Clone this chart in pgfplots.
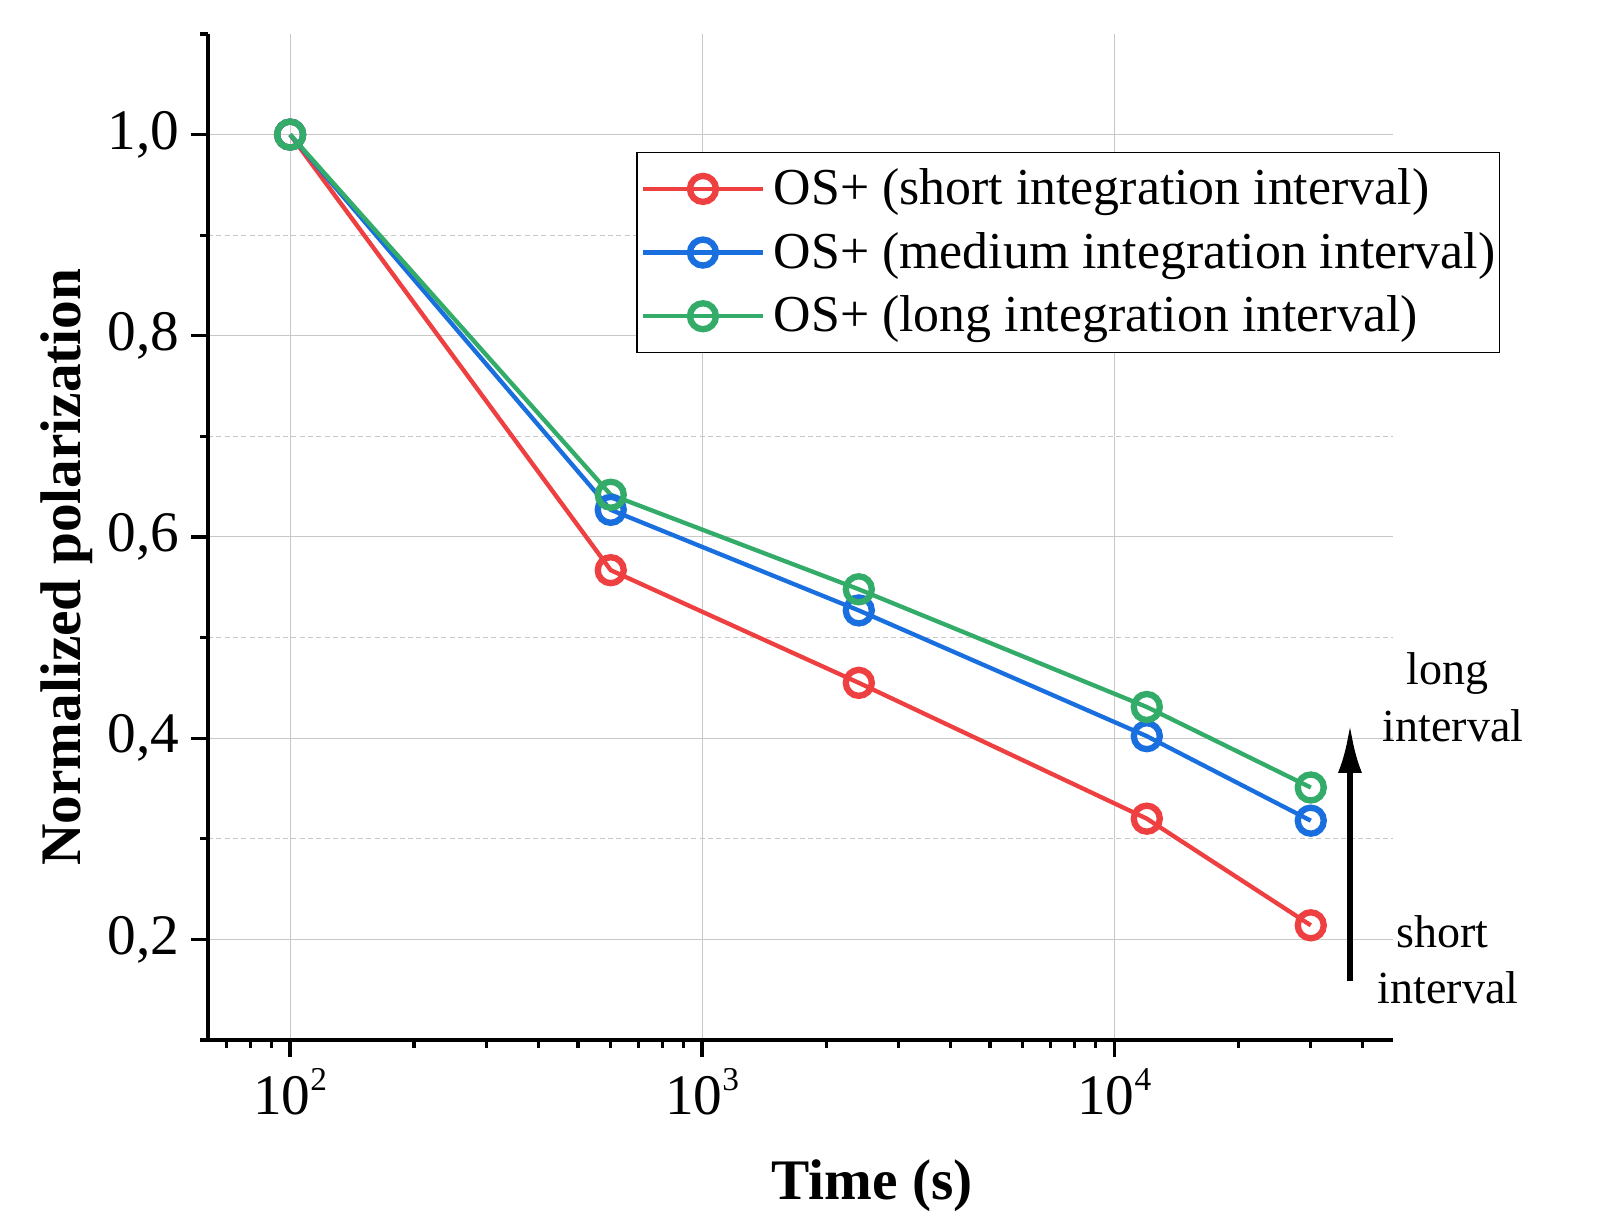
\documentclass[border=0pt]{standalone}
\usepackage{fontspec}
\setmainfont{Liberation Serif}
\usepackage{pgfplots}
\pgfplotsset{compat=1.18}
\usetikzlibrary{arrows.meta}

\definecolor{osred}{RGB}{238,64,64}
\definecolor{osblue}{RGB}{26,111,223}
\definecolor{osgreen}{RGB}{52,172,105}
\definecolor{gridgray}{RGB}{200,200,200}

% power-of-ten tick label
\newcommand{\pw}[1]{10\raisebox{7.3pt}{\fontsize{10}{10}\selectfont #1}}

\pgfplotsset{
  osplot/.style={line width=1.3pt, mark=o, mark size=3.9pt,
    mark options={fill=white, line width=1.9pt, solid}},
}

\begin{document}
\begin{tikzpicture}
\begin{axis}[
  scale only axis, width=355.5pt, height=301.8pt,
  clip=false,
  xmode=log, xmin=63.2, xmax=47500,
  ymin=0.1, ymax=1.1,
  axis x line*=bottom, axis y line*=left,
  axis line style={line width=1pt, black},
  every tick/.style={black, line width=1pt},
  tick align=outside,
  major tick length=5pt, minor tick length=2.4pt,
  xtick={100,1000,10000},
  xticklabels={\pw{2},\pw{3},\pw{4}},
  minor xtick={70,80,90,200,300,400,500,600,700,800,900,2000,3000,4000,5000,6000,7000,8000,9000,20000,30000,40000},
  ytick={0.2,0.4,0.6,0.8,1.0},
  yticklabels={{0,2},{0,4},{0,6},{0,8},{1,0}},
  minor ytick={0.3,0.5,0.7,0.9},
  extra y ticks={0.1,1.1}, extra y tick labels={},
  extra y tick style={grid=none, major tick length=2.4pt},
  xmajorgrids, ymajorgrids, yminorgrids,
  major grid style={gridgray, line width=0.3pt},
  minor grid style={gridgray, line width=0.3pt, dash pattern=on 1.5pt off 1pt},
  tick label style={font=\fontsize{17.2}{20}\selectfont},
  label style={font=\fontsize{17.2}{20}\selectfont\bfseries},
  xlabel={Time (s)},
  ylabel={Normalized polarization},
  xlabel style={at={(axis description cs:0.5603,-0.159)}, anchor=base},
  ylabel style={at={(axis description cs:-0.108,0.47)}, anchor=base},
  legend style={at={(0.3612,0.8827)}, anchor=north west, draw=black,
    line width=0.45pt, fill=white,
    font=\fontsize{15.55}{18}\selectfont,
    inner xsep=1.2pt, inner ysep=1.3pt, row sep=0pt,
    nodes={inner sep=0pt, text height=14.2pt, text depth=4.9pt}},
  legend cell align=left,
  legend image code/.code={
    \draw[#1, mark=none] (0pt,0pt) -- (36pt,0pt);
    \draw[#1] plot coordinates {(18pt,0pt)};
  },
]
\addplot[osplot, osred] coordinates {
  (100,1.000) (600,0.567) (2400,0.455) (12000,0.320) (30000,0.214)
};
\addlegendentry{\hspace{2.6pt}OS+ (short integration interval)}
\addplot[osplot, osblue] coordinates {
  (100,1.000) (600,0.627) (2400,0.527) (12000,0.402) (30000,0.318)
};
\addlegendentry{\hspace{2.6pt}OS+ (medium integration interval)}
\addplot[osplot, osgreen] coordinates {
  (100,1.000) (600,0.642) (2400,0.548) (12000,0.431) (30000,0.351)
};
\addlegendentry{\hspace{2.6pt}OS+ (long integration interval)}

% direction of growing integration interval
\draw[-{Latex[length=14.5pt,width=7.2pt]}, line width=1.8pt, black]
  (rel axis cs:0.9637,0.0586) -- (rel axis cs:0.9637,0.3135);
\node[anchor=base, font=\fontsize{13.8}{17}\selectfont] at (rel axis cs:1.046,0.3529) {long};
\node[anchor=base, font=\fontsize{13.8}{17}\selectfont] at (rel axis cs:1.0506,0.2965) {interval};
\node[anchor=base, font=\fontsize{13.8}{17}\selectfont] at (rel axis cs:1.0420,0.0921) {short};
\node[anchor=base, font=\fontsize{13.8}{17}\selectfont] at (rel axis cs:1.0464,0.0365) {interval};
\end{axis}
\path (current axis.south west) ++(-62.4pt,-57pt) rectangle ++(482.4pt,369pt);
\end{tikzpicture}
\end{document}
